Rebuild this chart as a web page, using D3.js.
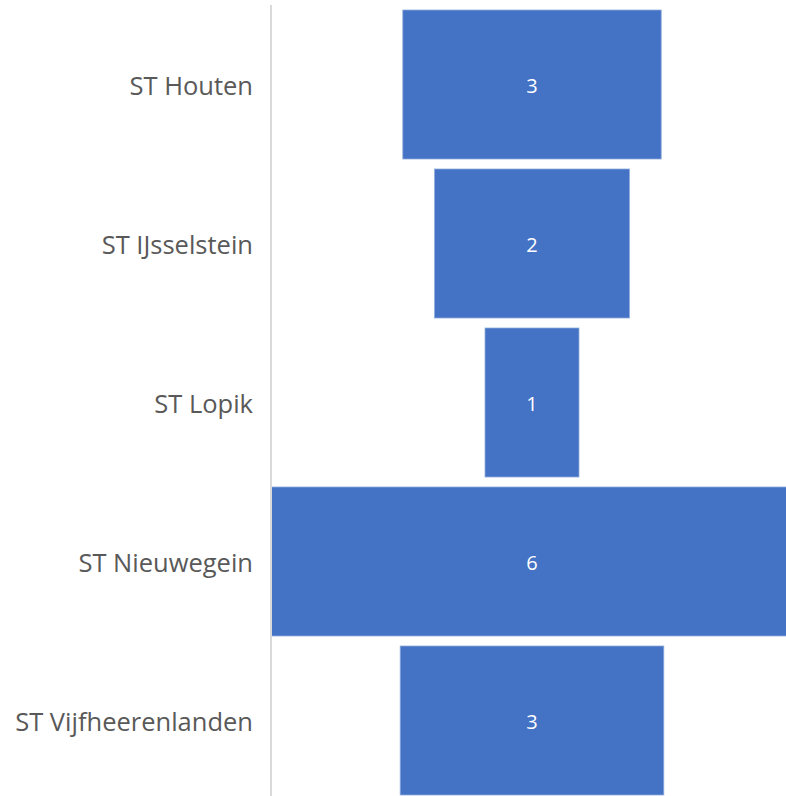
<!DOCTYPE html>
<html>
<head>
<meta charset="utf-8">
<script src="https://cdn.jsdelivr.net/npm/d3@7"></script>
<style>
  body { margin: 0; background: #fff; }
  svg { display: block; }
</style>
</head>
<body>
<div id="chart"></div>
<script>
(function(d3) {
    'use strict';

    // Data (bar widths, labels show rounded values)
    var categories = ['ST Houten', 'ST IJsselstein', 'ST Lopik', 'ST Nieuwegein', 'ST Vijfheerenlanden'];
    var values = [2.97, 2.24, 1.08, 6, 3.03];

    // Chart vars
    var width = 786;
    var height = 796;
    var axisX = 271;
    var centerX = 532;

    var svg = d3.select('#chart')
        .append('svg')
        .attr('width', width)
        .attr('height', height);

    var y = d3.scaleBand()
        .domain(categories)
        .range([5, 800])
        .paddingInner(10 / 159)
        .paddingOuter(5 / 159);

    var x = d3.scaleLinear()
        .domain([0, d3.max(values)])
        .range([0, 2 * (centerX - axisX)]);

    var data = categories.map(function(c, i) {
        return { label: c, value: values[i] };
    });

    // Bars, centered (funnel)
    svg.selectAll('rect.bar')
        .data(data)
        .enter()
        .append('rect')
        .attr('class', 'bar')
        .attr('x', function(d) { return centerX - x(d.value) / 2; })
        .attr('y', function(d) { return y(d.label); })
        .attr('width', function(d) { return x(d.value); })
        .attr('height', y.bandwidth())
        .attr('fill', '#4472C4')
        .attr('stroke', '#8eaadb')
        .attr('stroke-width', 0.8);

    // Value labels
    svg.selectAll('text.value')
        .data(data)
        .enter()
        .append('text')
        .attr('class', 'value')
        .attr('x', centerX)
        .attr('y', function(d) { return y(d.label) + y.bandwidth() / 2 + 1; })
        .attr('dy', '0.35em')
        .attr('text-anchor', 'middle')
        .attr('fill', '#ffffff')
        .style('font-family', 'Open Sans, sans-serif')
        .style('font-size', '20px')
        .text(function(d) { return d3.format('.0f')(d.value); });

    // Category axis
    var axis = svg.append('g')
        .attr('transform', 'translate(' + axisX + ',0)')
        .call(d3.axisLeft(y).tickSize(0).tickPadding(18));

    axis.select('.domain')
        .attr('d', 'M0,5V796')
        .attr('stroke', '#d9d9d9')
        .attr('stroke-width', 2);

    axis.selectAll('text')
        .attr('fill', '#595959')
        .attr('dy', '0.4em')
        .style('font-family', 'Open Sans, sans-serif')
        .style('font-size', '25.5px');

})(window.d3);
</script>
</body>
</html>
